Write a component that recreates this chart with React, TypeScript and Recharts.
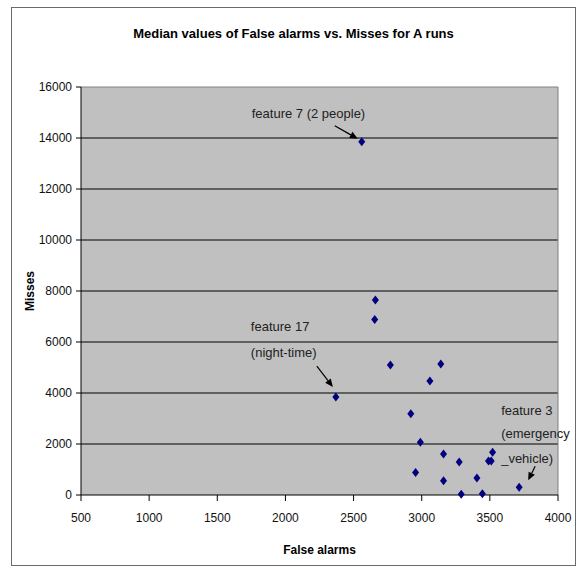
import React from "react";
import {
  ScatterChart,
  Scatter,
  XAxis,
  YAxis,
  CartesianGrid,
  ReferenceLine,
  ReferenceDot,
  Label,
} from "recharts";

// median false alarms / misses per feature (A runs)
const falseAlarms = [
  2560, 2660, 2655, 2770, 3140, 3060, 2370, 2920, 2990, 3160, 3275, 3520, 3490, 3510, 2955, 3160, 3405,
  3715, 3290, 3445,
];
const misses = [
  13850, 7650, 6880, 5100, 5140, 4470, 3840, 3190, 2070, 1610, 1290, 1680, 1330, 1330, 880, 560, 670,
  300, 30, 50,
];

const xTicks = [500, 1000, 1500, 2000, 2500, 3000, 3500, 4000];
const yTicks = [0, 2000, 4000, 6000, 8000, 10000, 12000, 14000, 16000];

const points = falseAlarms.map((x, i) => ({ x, y: misses[i] }));

const FONT = "'Liberation Sans', Arial, sans-serif";

// callouts: which point they point at, text lines, pixel offsets from that point
type Note = {
  point: number;
  lines: string[];
  dx: number;
  dy: number[];
  from: [number, number];
  to: [number, number];
};

const notes: Note[] = [
  { point: 0, lines: ["feature 7 (2 people)"], dx: -110, dy: [-28], from: [-27, -16], to: [-4, -3] },
  { point: 6, lines: ["feature 17", "(night-time)"], dx: -85, dy: [-71, -45], from: [-19, -31], to: [-3, -10] },
  {
    point: 17,
    lines: ["feature 3", "(emergency", "_vehicle)"],
    dx: -18,
    dy: [-77, -54, -29],
    from: [16, -21],
    to: [9, -7],
  },
];

// small Excel-style diamond marker
function Diamond(props: any) {
  const { cx, cy } = props;
  const w = 3.5;
  const h = 4.5;
  return (
    <polygon
      points={`${cx},${cy - h} ${cx + w},${cy} ${cx},${cy + h} ${cx - w},${cy}`}
      fill="#000080"
    />
  );
}

function NoteShape(props: any) {
  const { cx, cy, note } = props as { cx: number; cy: number; note: Note };
  const x1 = cx + note.from[0];
  const y1 = cy + note.from[1];
  const x2 = cx + note.to[0];
  const y2 = cy + note.to[1];
  const ang = Math.atan2(y2 - y1, x2 - x1);
  const len = 8;
  const half = 3.5;
  const bx = x2 - len * Math.cos(ang);
  const by = y2 - len * Math.sin(ang);
  const head = `${x2},${y2} ${bx + half * Math.sin(ang)},${by - half * Math.cos(ang)} ${
    bx - half * Math.sin(ang)
  },${by + half * Math.cos(ang)}`;
  return (
    <g>
      <line x1={x1} y1={y1} x2={bx} y2={by} stroke="#000" strokeWidth={1.2} />
      <polygon points={head} fill="#000" />
      {note.lines.map((line, i) => (
        <text
          key={i}
          x={cx + note.dx}
          y={cy + note.dy[i]}
          dominantBaseline="central"
          fontSize={13}
          fontFamily={FONT}
          fill="#222"
        >
          {line}
        </text>
      ))}
    </g>
  );
}

export default function App() {
  return (
    <div
      style={{
        position: "absolute",
        left: 0,
        top: 0,
        width: 580,
        height: 569,
        background: "#fff",
        fontFamily: FONT,
      }}
    >
      <div
        style={{
          position: "absolute",
          left: 11,
          top: 7,
          width: 565,
          height: 559,
          border: "1px solid #6a6a6a",
          boxSizing: "border-box",
        }}
      />
      <div
        style={{
          position: "absolute",
          left: 11,
          top: 25,
          width: 565,
          lineHeight: "18px",
          textAlign: "center",
          fontSize: 13,
          fontWeight: "bold",
          color: "#000",
        }}
      >
        Median values of False alarms vs. Misses for A runs
      </div>
      <ScatterChart
        width={580}
        height={569}
        margin={{ top: 87, right: 22, bottom: 14, left: 21 }}
        style={{ position: "absolute", left: 0, top: 0 }}
      >
        <CartesianGrid
          vertical={false}
          horizontalValues={yTicks.slice(1, -1)}
          stroke="#000"
          fill="#c0c0c0"
          fillOpacity={1}
        />
        <XAxis
          type="number"
          dataKey="x"
          domain={[500, 4000]}
          ticks={xTicks}
          interval={0}
          height={60}
          tickSize={6}
          tickMargin={12}
          axisLine={{ stroke: "#000" }}
          tickLine={{ stroke: "#000" }}
          tick={{ fill: "#111", fontSize: 12, fontFamily: FONT }}
        >
          <Label
            value="False alarms"
            position="center"
            dy={25}
            style={{ fontSize: 12, fontWeight: "bold", fill: "#000", fontFamily: FONT }}
          />
        </XAxis>
        <YAxis
          type="number"
          dataKey="y"
          domain={[0, 16000]}
          ticks={yTicks}
          interval={0}
          width={60}
          tickSize={5}
          tickMargin={4}
          axisLine={{ stroke: "#000" }}
          tickLine={{ stroke: "#000" }}
          tick={{ fill: "#111", fontSize: 12, fontFamily: FONT }}
        >
          <Label
            value="Misses"
            position="center"
            angle={-90}
            dx={-21}
            style={{ fontSize: 12, fontWeight: "bold", fill: "#000", fontFamily: FONT }}
          />
        </YAxis>
        <ReferenceLine y={16000} stroke="#808080" />
        <ReferenceLine x={4000} stroke="#808080" />
        <Scatter data={points} shape={Diamond} fill="#000080" isAnimationActive={false} />
        {notes.map((n, i) => (
          <ReferenceDot
            key={i}
            x={points[n.point].x}
            y={points[n.point].y}
            r={1}
            shape={(p: any) => <NoteShape {...p} note={n} />}
          />
        ))}
      </ScatterChart>
    </div>
  );
}
